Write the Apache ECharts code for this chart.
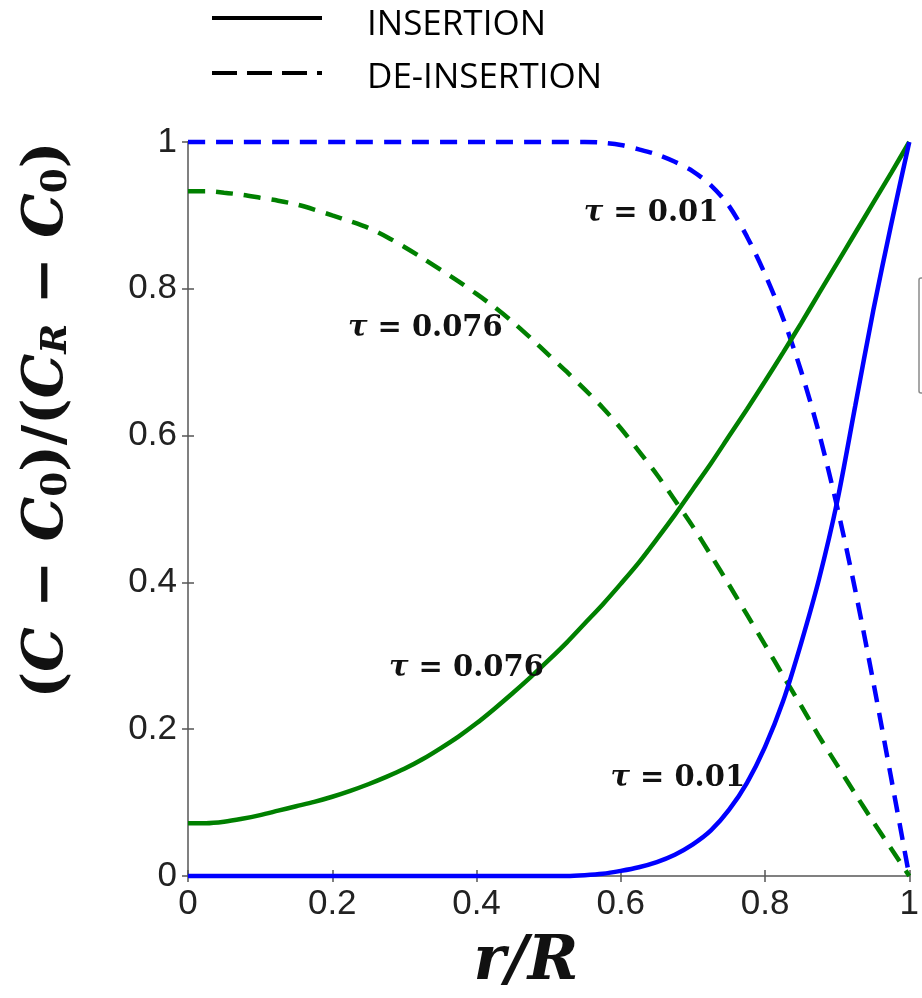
<!DOCTYPE html>
<html>
<head>
<meta charset="utf-8">
<script src="https://cdn.jsdelivr.net/npm/echarts@6/dist/echarts.min.js"></script>
<style>
  html, body { margin: 0; padding: 0; background: #fff; }
  #chart { width: 922px; height: 998px; }
</style>
</head>
<body>
<div id="chart"></div>
<script>
// Normalised radial position r/R
const radius = [0, 0.025, 0.05, 0.075, 0.1, 0.125, 0.15, 0.175, 0.2, 0.225,
                0.25, 0.275, 0.3, 0.325, 0.35, 0.375, 0.4, 0.425, 0.45, 0.475,
                0.5, 0.525, 0.55, 0.575, 0.6, 0.625, 0.65, 0.675, 0.7, 0.725,
                0.75, 0.775, 0.8, 0.825, 0.85, 0.875, 0.9, 0.925, 0.95, 0.975, 1.0];

// Normalised concentration (C - C0)/(CR - C0)
const insertionFast   = [0, 0, 0, 0, 0, 0, 0, 0, 0, 0,
                         0, 0, 0, 0, 0, 0, 0, 0, 0, 0,
                         0, 0, 0.001, 0.003, 0.007, 0.012, 0.019, 0.029, 0.043, 0.062,
                         0.09, 0.127, 0.176, 0.238, 0.317, 0.405, 0.51, 0.64, 0.77, 0.888, 1.0];
const insertionSlow   = [0.072, 0.072, 0.074, 0.078, 0.083, 0.089, 0.095, 0.101, 0.108, 0.116,
                         0.125, 0.135, 0.146, 0.159, 0.174, 0.19, 0.208, 0.228, 0.249, 0.271,
                         0.294, 0.318, 0.344, 0.37, 0.398, 0.427, 0.459, 0.492, 0.527, 0.562,
                         0.599, 0.636, 0.674, 0.713, 0.753, 0.794, 0.835, 0.876, 0.917, 0.958, 1.0];
const deinsertionFast = [1, 1, 1, 1, 1, 1, 1, 1, 1, 1,
                         1, 1, 1, 1, 1, 1, 1, 1, 1, 1,
                         1, 1, 1.0, 0.999, 0.996, 0.99, 0.983, 0.973, 0.96, 0.941,
                         0.913, 0.871, 0.82, 0.76, 0.688, 0.603, 0.503, 0.39, 0.265, 0.133, 0.0];
const deinsertionSlow = [0.933, 0.933, 0.931, 0.928, 0.924, 0.92, 0.915, 0.908, 0.9, 0.892,
                         0.883, 0.871, 0.857, 0.842, 0.826, 0.81, 0.793, 0.775, 0.755, 0.733,
                         0.71, 0.687, 0.663, 0.638, 0.61, 0.579, 0.547, 0.512, 0.476, 0.437,
                         0.397, 0.356, 0.315, 0.273, 0.232, 0.19, 0.151, 0.112, 0.074, 0.037, 0.0];

// Curve annotations: time label and the (r/R, value) point it is centred on
const tauLabels = ['0.01', '0.076', '0.076', '0.01'];
const tauAnchors = [[0.642, 0.902], [0.329, 0.746], [0.386, 0.283], [0.679, 0.133]];

const BLUE = '#0000ff';
const GREEN = '#008000';
const DASH = [17, 11];

const pairs = ys => radius.map((r, i) => [r, ys[i]]);

function curve(name, ys, color, dashed) {
  return {
    name, type: 'line', data: pairs(ys),
    showSymbol: false, smooth: 0.3, clip: false,
    lineStyle: { color, width: 4.5, type: dashed ? DASH : 'solid', cap: 'butt' },
    emphasis: { disabled: true }
  };
}

const tickLabelStyle = {
  fontFamily: 'Liberation Sans, Arial, sans-serif',
  fontSize: 35, color: '#222'
};
const frameLine = { show: true, lineStyle: { color: '#808080', width: 2 } };
const inTicks = { show: true, inside: true, length: 6, lineStyle: { color: '#555', width: 1.5 } };

const chart = echarts.init(document.getElementById('chart'));

const option = {
  backgroundColor: '#fff',
  animation: false,
  grid: { left: 188, top: 142, right: 12, bottom: 122 },
  xAxis: [
    {
      type: 'value', min: 0, max: 1, interval: 0.2,
      axisLine: frameLine, axisTick: inTicks, splitLine: { show: false },
      axisLabel: Object.assign({ margin: 11, showMaxLabel: true, showMinLabel: true,
        formatter: v => String(+v.toFixed(1)) }, tickLabelStyle)
    },
    {
      type: 'value', position: 'top', min: 0, max: 1, interval: 0.2,
      axisLine: frameLine, axisTick: inTicks, splitLine: { show: false }, axisLabel: { show: false }
    }
  ],
  yAxis: [
    {
      type: 'value', min: 0, max: 1, interval: 0.2,
      axisLine: frameLine, axisTick: inTicks, splitLine: { show: false },
      axisLabel: Object.assign({ margin: 11,
        formatter: v => String(+v.toFixed(1)) }, tickLabelStyle)
    },
    {
      type: 'value', position: 'right', min: 0, max: 1, interval: 0.2,
      axisLine: frameLine, axisTick: inTicks, splitLine: { show: false }, axisLabel: { show: false }
    }
  ],
  series: [
    curve('DE-INSERTION τ=0.01', deinsertionFast, BLUE, true),
    curve('DE-INSERTION τ=0.076', deinsertionSlow, GREEN, true),
    curve('INSERTION τ=0.076', insertionSlow, GREEN, false),
    curve('INSERTION τ=0.01', insertionFast, BLUE, false),
    {
      type: 'scatter', symbolSize: 0, silent: true, z: 5,
      itemStyle: { opacity: 1 },
      data: tauAnchors.map(p => p),
      label: {
        show: true, position: 'inside', opacity: 1,
        formatter: p => '{t|τ}{n| = ' + tauLabels[p.dataIndex] + '}',
        rich: {
          t: { fontFamily: 'DejaVu Serif', fontStyle: 'italic', fontWeight: 'bold', fontSize: 29, color: '#111' },
          n: { fontFamily: 'DejaVu Serif', fontWeight: 'bold', fontSize: 29, color: '#111' }
        }
      }
    }
  ],
  graphic: [
    // line-style key
    { type: 'line', shape: { x1: 212, y1: 18, x2: 322, y2: 18 },
      style: { stroke: '#000', lineWidth: 4 } },
    { type: 'text', x: 367, y: 25,
      style: { text: 'INSERTION', fontFamily: 'Open Sans', fontSize: 35, fill: '#000',
               verticalAlign: 'middle', align: 'left' } },
    { type: 'line', shape: { x1: 212, y1: 73, x2: 322, y2: 73 },
      style: { stroke: '#000', lineWidth: 4, lineDash: [25, 10] } },
    { type: 'text', x: 367, y: 78,
      style: { text: 'DE-INSERTION', fontFamily: 'Open Sans', fontSize: 35, fill: '#000',
               verticalAlign: 'middle', align: 'left' } },
    // edge of a box cut off at the right border
    { type: 'rect', shape: { x: 919, y: 278, width: 20, height: 115, r: 2 },
      style: { fill: 'none', stroke: '#8a8a8a', lineWidth: 1.5 } },
    // axis titles
    { type: 'text', x: 47, y: 420, rotation: Math.PI / 2,
      style: {
        text: '{p|(}{v|C}{p| − }{v|C}{s|0}{p|)/(}{v|C}{r|R}{p| − }{v|C}{s|0}{p|)}',
        align: 'center', verticalAlign: 'middle',
        rich: {
          p: { fontFamily: 'DejaVu Serif', fontWeight: 'bold', fontSize: 56, fill: '#111', verticalAlign: 'bottom' },
          v: { fontFamily: 'DejaVu Serif', fontWeight: 'bold', fontStyle: 'italic', fontSize: 56, fill: '#111', verticalAlign: 'bottom' },
          s: { fontFamily: 'DejaVu Serif', fontWeight: 'bold', fontSize: 36, fill: '#111', verticalAlign: 'bottom', padding: [14, 0, 0, 0] },
          r: { fontFamily: 'DejaVu Serif', fontWeight: 'bold', fontStyle: 'italic', fontSize: 36, fill: '#111', verticalAlign: 'bottom', padding: [14, 0, 0, 0] }
        }
      } },
    { type: 'text', x: 526, y: 963,
      style: {
        text: 'r/R', fontFamily: 'DejaVu Serif', fontWeight: 'bold', fontStyle: 'italic',
        fontSize: 61, fill: '#111', align: 'center', verticalAlign: 'middle'
      } }
  ]
};

chart.setOption(option);
</script>
</body>
</html>
